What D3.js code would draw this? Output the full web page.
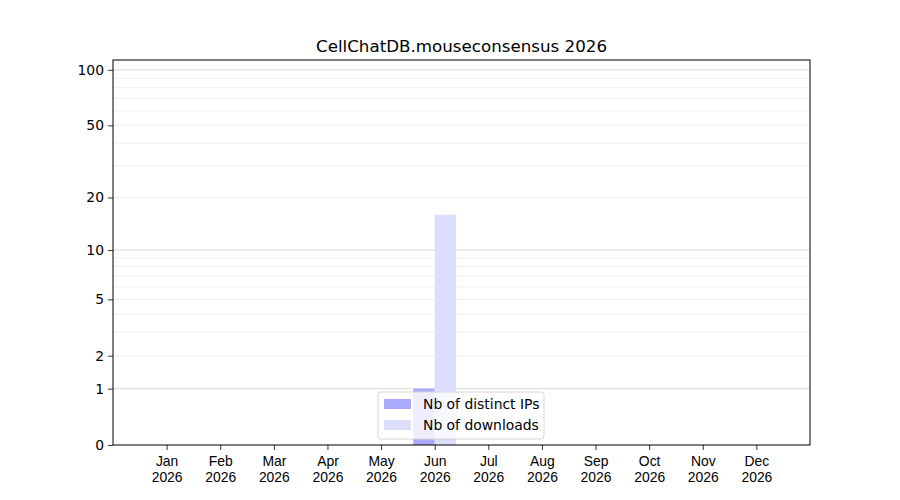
<!DOCTYPE html>
<html><head><meta charset="utf-8">
<script src="https://cdn.jsdelivr.net/npm/d3@7/dist/d3.min.js"></script>
<style>body{margin:0;background:#fff}svg{font-family:"DejaVu Sans",sans-serif}</style>
</head><body><svg id="c" width="900" height="500"></svg>
<script>
const months = ["Jan","Feb","Mar","Apr","May","Jun","Jul","Aug","Sep","Oct","Nov","Dec"];
const year = "2026";
const distinctIPs = [0,0,0,0,0,1,0,0,0,0,0,0];
const downloads = [0,0,0,0,0,16,0,0,0,0,0,0];
const yTicks = [0,1,2,5,10,20,50,100];
const majorGrid = [1,10,100];
const minorGrid = [2,3,4,5,6,7,8,9,20,30,40,50,60,70,80,90];
const yMax = 113;
const title = "CellChatDB.mouseconsensus 2026";
const seriesNames = ["Nb of distinct IPs","Nb of downloads"];
const colors = ["#aaaafc","#ddddfd"];

const svg = d3.select("#c");
const L=113,R=810,T=60,B=445;
const FS="13.9px";
const x = d3.scaleLinear().domain([0,13]).range([L,R]);
const y = d3.scaleSymlog().constant(1).domain([0,yMax]).range([B,T]);
const bw = 0.4;

const g = svg.append("g");
g.selectAll(".mg").data(minorGrid).enter().append("line")
 .attr("x1",L).attr("x2",R).attr("y1",d=>y(d)).attr("y2",d=>y(d))
 .attr("stroke","#ebebeb").attr("stroke-width",0.8);
g.selectAll(".Mg").data(majorGrid).enter().append("line")
 .attr("x1",L).attr("x2",R).attr("y1",d=>y(d)).attr("y2",d=>y(d))
 .attr("stroke","#cfcfcf").attr("stroke-width",0.8);

const series=[distinctIPs,downloads];
series.forEach((s,si)=>{
  g.selectAll(".b"+si).data(s.map((v,i)=>({v,i}))).enter().filter(d=>d.v>0).append("rect")
   .attr("x",d=>x(d.i+1+(si===0?-bw:0)))
   .attr("width",x(bw)-x(0))
   .attr("y",d=>y(d.v)).attr("height",d=>B-y(d.v))
   .attr("fill",colors[si]);
});

// axes
const xa = svg.append("g").attr("transform",`translate(0,${B})`)
 .call(d3.axisBottom(x).tickValues(d3.range(1,13)).tickSize(5).tickFormat(""));
xa.select(".domain").remove();
xa.selectAll(".tick line").attr("stroke","#000").attr("stroke-width",0.8);
xa.selectAll(".tick").each(function(d){
  const t=d3.select(this).append("text").attr("fill","#000").attr("font-size",FS).attr("text-anchor","middle");
  t.append("tspan").attr("x",0).attr("y",21).text(months[d-1]);
  t.append("tspan").attr("x",0).attr("y",37).text(year);
});
const ya = svg.append("g").attr("transform",`translate(${L},0)`)
 .call(d3.axisLeft(y).tickValues(yTicks).tickSize(5).tickPadding(4).tickFormat(d3.format("d")));
ya.select(".domain").remove();
ya.selectAll(".tick line").attr("stroke","#000").attr("stroke-width",0.8);
ya.selectAll(".tick text").attr("font-size",FS).attr("fill","#000").attr("font-family","DejaVu Sans");

svg.append("rect").attr("x",L).attr("y",T).attr("width",R-L).attr("height",B-T)
 .attr("fill","none").attr("stroke","#000").attr("stroke-width",1);

svg.append("text").attr("x",(L+R)/2).attr("y",52).attr("text-anchor","middle")
 .attr("font-size","16.7px").text(title);

// legend
const lg = svg.append("g").attr("transform","translate(378,392)");
lg.append("rect").attr("width",166).attr("height",47).attr("rx",3)
 .attr("fill","#fff").attr("fill-opacity",0.8).attr("stroke","#d6d6d6");
seriesNames.forEach((n,i)=>{
  lg.append("rect").attr("x",6).attr("y",7+i*21).attr("width",27).attr("height",10).attr("fill",colors[i]);
  lg.append("text").attr("x",45).attr("y",17+i*21).attr("font-size",FS).text(n);
});
</script></body></html>
